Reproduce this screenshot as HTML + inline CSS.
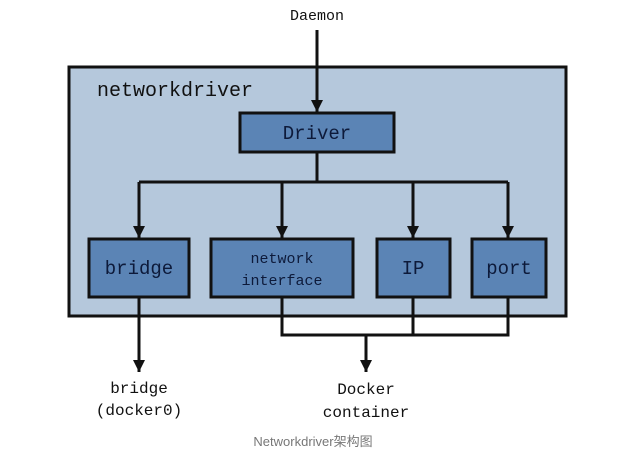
<!DOCTYPE html>
<html><head><style>
body{margin:0;background:#fff;width:627px;height:460px;overflow:hidden}
</style></head><body>
<svg width="627" height="460" xmlns="http://www.w3.org/2000/svg" font-family="Liberation Mono, monospace">
<defs><marker id="a" markerWidth="12" markerHeight="12" refX="10" refY="5" orient="auto" markerUnits="userSpaceOnUse" viewBox="0 0 10 10"><path d="M0,0 L10,5 L0,10 Z" fill="#111"/></marker></defs>
<rect x="69" y="67" width="497" height="249" fill="#b5c8dc" stroke="#111" stroke-width="3"/>
<text x="97" y="96" font-size="20" fill="#111">networkdriver</text>
<line x1="317" y1="30" x2="317" y2="112" stroke="#111" stroke-width="3" marker-end="url(#a)"/>
<text x="317" y="20" font-size="15" text-anchor="middle" fill="#111">Daemon</text>
<rect x="240" y="113" width="154" height="39" fill="#5b84b5" stroke="#111" stroke-width="3"/>
<text x="317" y="139" font-size="19" text-anchor="middle" fill="#0d1a3a">Driver</text>
<g stroke="#111" stroke-width="3" fill="none">
<line x1="317" y1="152" x2="317" y2="182"/>
<line x1="139" y1="182" x2="508" y2="182"/>
<line x1="139" y1="182" x2="139" y2="238" marker-end="url(#a)"/>
<line x1="282" y1="182" x2="282" y2="238" marker-end="url(#a)"/>
<line x1="413" y1="182" x2="413" y2="238" marker-end="url(#a)"/>
<line x1="508" y1="182" x2="508" y2="238" marker-end="url(#a)"/>
<line x1="139" y1="297" x2="139" y2="372" marker-end="url(#a)"/>
<polyline points="282,297 282,335 508,335 508,297"/>
<line x1="413" y1="297" x2="413" y2="335"/>
<line x1="366" y1="335" x2="366" y2="372" marker-end="url(#a)"/>
</g>
<g fill="#5b84b5" stroke="#111" stroke-width="3">
<rect x="89" y="239" width="100" height="58"/>
<rect x="211" y="239" width="142" height="58"/>
<rect x="377" y="239" width="73" height="58"/>
<rect x="472" y="239" width="74" height="58"/>
</g>
<g fill="#0d1a3a" text-anchor="middle">
<text x="139" y="274" font-size="19">bridge</text>
<text x="282" y="263" font-size="15">network</text>
<text x="282" y="285" font-size="15">interface</text>
<text x="413" y="274" font-size="19">IP</text>
<text x="509" y="274" font-size="19">port</text>
</g>
<g fill="#111" text-anchor="middle" font-size="16">
<text x="139" y="393">bridge</text>
<text x="139" y="415">(docker0)</text>
<text x="366" y="394">Docker</text>
<text x="366" y="417">container</text>
</g>
<text x="313" y="446" font-size="13" text-anchor="middle" fill="#777" font-family="Liberation Sans, Noto Sans CJK SC, sans-serif">Networkdriver架构图</text>
</svg>
</body></html>
